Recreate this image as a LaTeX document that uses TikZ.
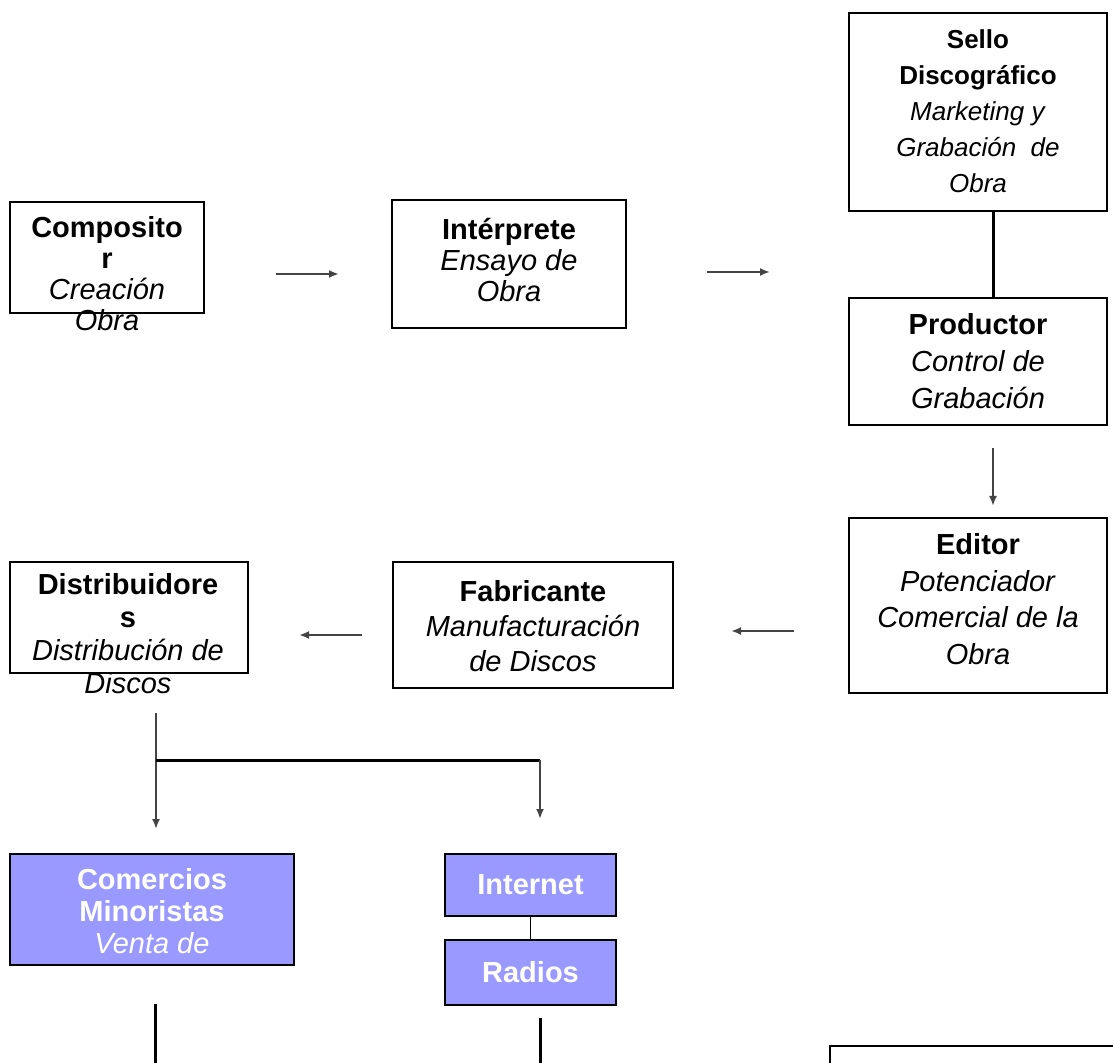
\documentclass[tikz,border=0pt]{standalone}
\usepackage{fontspec}
\setmainfont{Liberation Sans}
\usetikzlibrary{arrows.meta, positioning, fit}
\definecolor{lavanda}{HTML}{9999FF}
\definecolor{gris}{HTML}{444444}
\newcommand{\rol}[1]{\textbf{#1}}
\newcommand{\tarea}[1]{\textit{#1}}

\begin{document}
\begin{tikzpicture}[x=0.5pt, y=-0.5pt,
    caja/.style={draw=black, line width=1pt, inner sep=0pt},
    cajaazul/.style={caja, fill=lavanda},
    texto/.style={align=center, inner sep=0pt, anchor=north, font=\fontsize{14.5}{#1}\selectfont},
    texto/.default=17,
    textoblanco/.style={texto=#1, text=white},
    textoblanco/.default=16,
    flecha/.style={draw=gris, line width=1pt, -{Latex[length=5pt, width=4pt]}},
    linea/.style={draw=black, line width=1.5pt}]
    \useasboundingbox (0,0) rectangle (1113,1063);
    \fill[white] (0,0) rectangle (1113,1063);
    \clip (0,0) rectangle (1113,1063);

    % cajas
    \node[caja, fit={(10,202) (204,313)}] (comp) {};
    \node[caja, fit={(392,200) (626,328)}] (interp) {};
    \node[caja, fit={(849,13) (1107,211)}] (sello) {};
    \node[caja, fit={(849,298) (1107,425)}] (prod) {};
    \node[caja, fit={(849,518) (1107,693)}] (edit) {};
    \node[caja, fit={(393,562) (673,688)}] (fab) {};
    \node[caja, fit={(10,562) (248,673)}] (dist) {};
    \node[cajaazul, fit={(10,854) (294,965)}] (com) {};
    \node[cajaazul, fit={(445,854) (616,916)}] (inet) {};
    \node[cajaazul, fit={(445,940) (616,1005)}] (radio) {};
    \node[caja, fit={(830,1046) (1125,1120)}] (ciclo) {};

    % textos
    \node[texto=15.5] (comp-t) at (107,216) {\rol{Composito}\\\rol{r}\\\tarea{Creación}\\\tarea{Obra}};
    \node[texto=15.5] (interp-t) at (509,218) {\rol{Intérprete}\\\tarea{Ensayo de}\\\tarea{Obra}};
    \node[texto, font=\fontsize{13}{18}\selectfont] (sello-t) at (978,29) {\rol{Sello}\\\rol{Discográfico}\\\tarea{Marketing y}\\\tarea{Grabación\ \ de}\\\tarea{Obra}};
    \node[texto=18.5] (prod-t) at (978,313) {\rol{Productor}\\\tarea{Control de}\\\tarea{Grabación}};
    \node[texto=18.3] (edit-t) at (978,533) {\rol{Editor}\\\tarea{Potenciador}\\\tarea{Comercial de la}\\\tarea{Obra}};
    \node[texto=17.5] (fab-t) at (533,580) {\rol{Fabricante}\\\tarea{Manufacturación}\\\tarea{de Discos}};
    \node[texto=16.5] (dist-t) at (128,573) {\rol{Distribuidore}\\\rol{s}\\\tarea{Distribución de}\\\tarea{Discos}};
    \node[textoblanco] (com-t) at (152,868) {\rol{Comercios}\\\rol{Minoristas}\\\tarea{Venta de}};
    \node[textoblanco, anchor=center] (inet-t) at (inet) {\rol{Internet}};
    \node[textoblanco, anchor=center] (radio-t) at (radio) {\rol{Radios}};

    % conectores
    \coordinate (ya) at (0,274);
    \coordinate (yb) at (0,272);
    \coordinate (yc) at (0,631);
    \coordinate (yd) at (0,635);
    \draw[flecha, shorten <=35.5pt, shorten >=26pt] (comp.east |- ya) -- (interp.west |- ya);
    \draw[flecha, shorten <=40pt, shorten >=39pt] (interp.east |- yb) -- (sello.west |- yb);
    \draw[linea] ([xshift=7.5pt]sello.south) -- ([xshift=7.5pt]prod.north);
    \draw[flecha, shorten <=11pt, shorten >=5.5pt] ([xshift=7.5pt]prod.south) -- ([xshift=7.5pt]edit.north);
    \draw[flecha, shorten <=27pt, shorten >=28.5pt] (edit.west |- yc) -- (fab.east |- yc);
    \draw[flecha, shorten <=15pt, shorten >=25pt] (fab.west |- yd) -- (dist.east |- yd);

    \coordinate (r1) at (156,760);
    \coordinate (r2) at (540,760);
    \draw[flecha, shorten <=19.5pt, shorten >=12pt] (dist.south -| r1) -- (com.north -| r1);
    \draw[linea] (r1) -- (r2);
    \draw[flecha, shorten >=17pt] (r2) -- (inet.north -| r2);
    \draw[line width=0.8pt] (inet) -- (radio);

    \coordinate (f1) at (155,1063);
    \coordinate (f2) at (540,1063);
    \draw[linea, shorten <=19pt] (com.south -| f1) -- (f1);
    \draw[linea, shorten <=6pt] (radio.south -| f2) -- (f2);
\end{tikzpicture}
\end{document}
